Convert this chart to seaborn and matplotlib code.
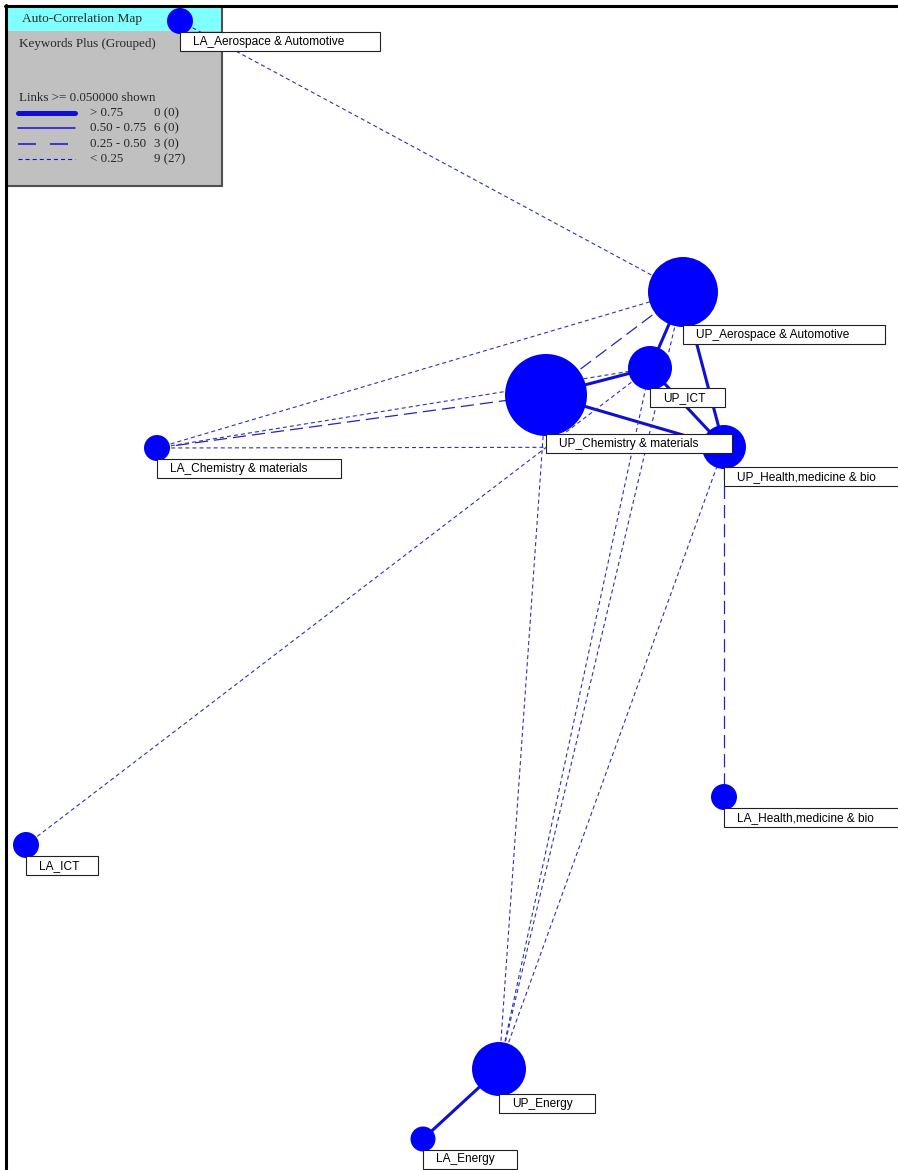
import pandas as pd
import matplotlib.pyplot as plt
import seaborn as sns
from matplotlib.patches import Rectangle

# Nodes (map coordinates, y grows downward) and circle radius
node_names = ["LA_Aerospace & Automotive", "UP_Aerospace & Automotive", "UP_ICT",
              "UP_Chemistry & materials", "UP_Health,medicine & bio", "LA_Chemistry & materials",
              "LA_Health,medicine & bio", "LA_ICT", "UP_Energy", "LA_Energy"]
node_x = [180, 683, 650, 546, 724, 157, 724, 26, 499, 423]
node_y = [21, 292, 368, 395, 447, 448, 797, 845, 1069, 1139]
node_r = [13, 35, 22, 41, 22, 13, 13, 13, 27, 12.5]

# Links and their correlation band
edge_src = ["UP_Aerospace & Automotive", "UP_Aerospace & Automotive", "UP_Chemistry & materials",
            "UP_Chemistry & materials", "UP_ICT", "UP_Energy",
            "UP_Aerospace & Automotive", "LA_Chemistry & materials", "UP_Health,medicine & bio",
            "LA_Aerospace & Automotive", "LA_Chemistry & materials", "LA_Chemistry & materials",
            "LA_Chemistry & materials", "LA_ICT", "UP_Energy", "UP_Energy", "UP_Energy", "UP_Energy"]
edge_dst = ["UP_ICT", "UP_Health,medicine & bio", "UP_ICT",
            "UP_Health,medicine & bio", "UP_Health,medicine & bio", "LA_Energy",
            "UP_Chemistry & materials", "UP_Chemistry & materials", "LA_Health,medicine & bio",
            "UP_Aerospace & Automotive", "UP_Aerospace & Automotive", "UP_ICT",
            "UP_Health,medicine & bio", "UP_ICT", "UP_Chemistry & materials", "UP_ICT",
            "UP_Aerospace & Automotive", "UP_Health,medicine & bio"]
edge_band = ["0.50 - 0.75"] * 6 + ["0.25 - 0.50"] * 3 + ["< 0.25"] * 9

band_labels = ["> 0.75", "0.50 - 0.75", "0.25 - 0.50", "< 0.25"]
band_counts = ["0 (0)", "6 (0)", "3 (0)", "9 (27)"]


def build_edges():
    pos = dict(zip(node_names, zip(node_x, node_y)))
    rows = []
    for i, (a, b, band) in enumerate(zip(edge_src, edge_dst, edge_band)):
        for n in (a, b):
            rows.append({"edge": i, "x": pos[n][0], "y": pos[n][1], "band": band})
    return pd.DataFrame(rows)


sns.set_theme(style="white")
plt.rcParams["lines.scale_dashes"] = False
plt.rcParams["font.family"] = ["Liberation Sans", "DejaVu Sans"]

fig = plt.figure(figsize=(8.98, 11.7), dpi=100)
ax = fig.add_axes([0, 0, 1, 1])

edges = build_edges()
sns.lineplot(
    data=edges, x="x", y="y", units="edge", estimator=None, sort=False,
    hue="band", palette={"0.50 - 0.75": "#1010d0", "0.25 - 0.50": "#2424c0", "< 0.25": "#3030b4"},
    size="band", sizes={"0.50 - 0.75": 2.2, "0.25 - 0.50": 0.9, "< 0.25": 0.8},
    style="band", dashes={"0.50 - 0.75": "", "0.25 - 0.50": (9.5, 4.3), "< 0.25": (2.9, 2.2)},
    legend=False, ax=ax, zorder=1,
)

# circles: radius in px -> marker area in pt^2 (100 dpi)
sns.scatterplot(
    x=node_x, y=node_y, size=node_r,
    sizes={r: (2 * r * 0.72) ** 2 for r in node_r},
    color="#0000ff", linewidth=0, legend=False, ax=ax, zorder=3,
)

ax.set_xlim(0, 898)
ax.set_ylim(1170, 0)
ax.axis("off")

# node labels in white boxes
renderer = fig.canvas.get_renderer()
for name, x, y, r in zip(node_names, node_x, node_y, node_r):
    top = y + r - 2
    t = ax.text(x + 13, top + 9.8, name, fontsize=8.6, va="center", ha="left",
                color="black", zorder=5)
    tw = t.get_window_extent(renderer).width
    ax.add_patch(Rectangle((x, top), 1.15 * tw + 26, 19, facecolor="white",
                           edgecolor="#202020", lw=0.8, zorder=4))

# legend panel
ax.add_patch(Rectangle((8, 8), 214, 178, facecolor="#c0c0c0", edgecolor="none", zorder=0.5))
ax.add_patch(Rectangle((8, 8), 214, 23, facecolor="#80ffff", edgecolor="none", zorder=0.6))
ax.plot([221.5, 221.5], [8, 186], color="#505050", lw=1.5, zorder=0.7)
ax.plot([8, 222], [185.5, 185.5], color="#505050", lw=1.5, zorder=0.7)

serif = ["Liberation Serif", "DejaVu Serif"]
ax.text(22, 19, "Auto-Correlation Map", fontsize=9.6, family=serif, va="center", zorder=2)
ax.text(19, 44, "Keywords Plus (Grouped)", fontsize=9.4, family=serif, va="center", zorder=2)
ax.text(19, 98, "Links >= 0.050000 shown", fontsize=9.4, family=serif, va="center", zorder=2)

key_y = [113, 128, 144, 159]
key_style = [("-", 3.6), ("-", 1.1), ((0, (13, 10)), 1.1), ((0, (2.9, 2.2)), 0.8)]
for yy, lab, cnt, (ls, lw) in zip(key_y, band_labels, band_counts, key_style):
    ax.plot([18, 75], [yy, yy], color="#1010d0", lw=lw, linestyle=ls, zorder=2)
    ax.text(90, yy, lab, fontsize=9.4, family=serif, va="center", zorder=2)
    ax.text(154, yy, cnt, fontsize=9.4, family=serif, va="center", zorder=2)

# window frame (top and left)
ax.plot([6, 6], [5, 1170], color="black", lw=2.2, zorder=6)
ax.plot([5, 898], [6, 6], color="black", lw=2.2, zorder=6)

fig.savefig("out.png", dpi=100)
